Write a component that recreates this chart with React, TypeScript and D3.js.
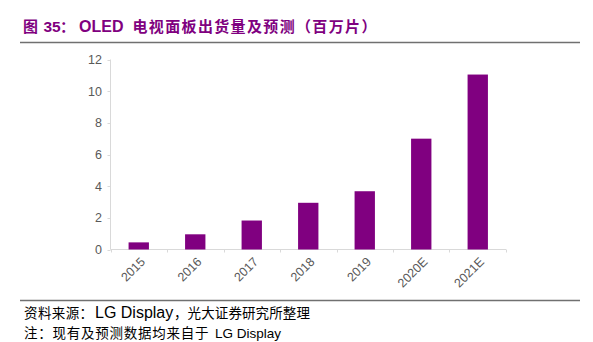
import React from "react";
import * as d3 from "d3";

const categories = ["2015", "2016", "2017", "2018", "2019", "2020E", "2021E"];
const values = [0.45, 0.96, 1.83, 2.95, 3.68, 7.0, 11.05];
const yTicks = [0, 2, 4, 6, 8, 10, 12];

const W = 593;
const H = 342;
const plot = { left: 110.5, right: 506, top: 59.5, bottom: 249.5 };
const purple = "#800080";

export default function App() {
  const x = d3.scaleBand<string>().domain(categories).range([plot.left, plot.right]).paddingInner(0.64).paddingOuter(0.32);
  const xTickScale = d3.scaleLinear().domain([0, categories.length]).range([plot.left, plot.right]);
  const y = d3.scaleLinear().domain([0, 12]).range([plot.bottom, plot.top]);
  const cjk = "'Noto Sans CJK SC', 'Noto Sans', sans-serif";
  const sans = "Arial, 'Liberation Sans', sans-serif";
  return (
    <svg width={W} height={H} style={{ position: "absolute", left: 0, top: 0, background: "#fff" }}>
      <g fill={purple} fontWeight="bold">
        <text x={23} y={31.5} fontSize={15} fontFamily={cjk}>图</text>
        <text x={43.5} y={31.5} fontSize={15.5} fontFamily={sans}>35</text>
        <text x={60} y={31.5} fontSize={15} fontFamily={cjk}>：</text>
        <text x={79} y={31.5} fontSize={16} fontFamily={sans}>OLED</text>
        <text x={132.5} y={31.5} fontSize={15} fontFamily={cjk} letterSpacing={1.35}>电视面板出货量及预测（百万片）</text>
      </g>
      <line x1={20} x2={580} y1={42.5} y2={42.5} stroke="#707070" strokeWidth={1.5} />

      <line x1={plot.left} x2={plot.left} y1={plot.top} y2={plot.bottom} stroke="#d9d9d9" />
      <line x1={plot.left} x2={plot.right} y1={plot.bottom} y2={plot.bottom} stroke="#d9d9d9" />
      {yTicks.map((t) => (
        <g key={t}>
          <line x1={plot.left - 3} x2={plot.left} y1={Math.round(y(t)) + 0.5} y2={Math.round(y(t)) + 0.5} stroke="#d9d9d9" />
          <text x={102} y={y(t) + 4.5} textAnchor="end" fontSize={12.5} fill="#595959" fontFamily={sans}>{t}</text>
        </g>
      ))}
      {d3.range(categories.length + 1).map((i) => (
        <line key={i} x1={Math.round(xTickScale(i)) + 0.5} x2={Math.round(xTickScale(i)) + 0.5} y1={plot.bottom} y2={plot.bottom + 3} stroke="#d9d9d9" />
      ))}
      {categories.map((c, i) => (
        <rect key={c} x={x(c)} y={y(values[i])} width={x.bandwidth()} height={plot.bottom - y(values[i])} fill={purple} />
      ))}
      {categories.map((c) => {
        const cx = (x(c) as number) + x.bandwidth() / 2 + 4;
        const cy = plot.bottom + 10;
        return (
          <text key={c} x={cx} y={cy} transform={`rotate(-45 ${cx} ${cy})`} textAnchor="end" fontSize={12.5} fill="#595959" fontFamily={sans} dy="0.35em">{c}</text>
        );
      })}

      <line x1={20} x2={580} y1={300.5} y2={300.5} stroke="#707070" strokeWidth={1.5} />
      <g fill="#000">
        <text x={24} y={318} fontSize={13.5} fontFamily={cjk} letterSpacing={0.4}>资料来源：</text>
        <text x={95} y={318} fontSize={16} fontFamily={sans}>LG Display</text>
        <text x={174} y={318} fontSize={13.5} fontFamily={cjk} letterSpacing={0.1}>，光大证券研究所整理</text>
        <text x={24} y={338} fontSize={13.5} fontFamily={cjk} letterSpacing={0.75}>注：现有及预测数据均来自于</text>
        <text x={215} y={338} fontSize={13.5} fontFamily={sans}>LG Display</text>
      </g>
    </svg>
  );
}
